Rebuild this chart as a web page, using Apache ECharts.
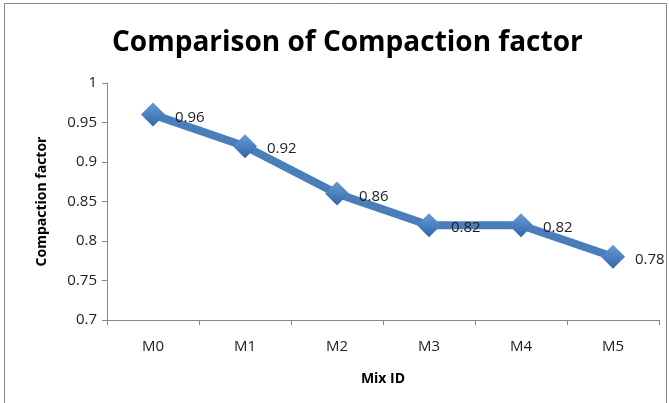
<!DOCTYPE html>
<html><head><meta charset="utf-8">
<script src="https://cdn.jsdelivr.net/npm/echarts@6/dist/echarts.min.js"></script>
<style>html,body{margin:0;padding:0;background:#fff}#c{width:669px;height:403px}</style>
</head><body><div id="c"></div>
<script>
var categories = ['M0','M1','M2','M3','M4','M5'];
var values = [0.96, 0.92, 0.86, 0.82, 0.82, 0.78];
var chart = echarts.init(document.getElementById('c'));
chart.setOption({
  backgroundColor: '#fff',
  animation: false,
  title: {
    text: 'Comparison of Compaction factor',
    left: 107, top: 24,
    textStyle: {fontFamily: 'Open Sans', fontWeight: 'bold', fontSize: 28, color: '#000'}
  },
  graphic: [{type: 'rect', shape: {x: 4.5, y: 3.5, width: 662, height: 410}, style: {fill: 'none', stroke: '#868686', lineWidth: 1}}],
  grid: {left: 107, right: 10, top: 83, bottom: 83},
  xAxis: {
    type: 'category', data: categories, name: 'Mix ID', nameLocation: 'middle', nameGap: 52,
    nameTextStyle: {fontFamily: 'Open Sans', fontWeight: 'bold', fontSize: 14, color: '#000'},
    axisLine: {lineStyle: {color: '#868686'}},
    axisTick: {show: true, length: 5, lineStyle: {color: '#868686'}},
    axisLabel: {fontFamily: 'Open Sans', fontSize: 15, color: '#222', margin: 19}
  },
  yAxis: {
    type: 'value', min: 0.7, max: 1, interval: 0.05,
    name: 'Compaction factor', nameLocation: 'middle', nameGap: 58,
    nameTextStyle: {fontFamily: 'Open Sans', fontWeight: 'bold', fontSize: 14, color: '#000'},
    axisLine: {show: true, lineStyle: {color: '#868686'}},
    axisTick: {show: true, length: 5, lineStyle: {color: '#868686'}},
    splitLine: {show: false},
    axisLabel: {fontFamily: 'Open Sans', fontSize: 15, color: '#222', margin: 10,
      formatter: function (v) { return String(Math.round(v * 100) / 100); }}
  },
  series: [{
    type: 'line', data: values,
    lineStyle: {color: '#4a7ebb', width: 8},
    symbol: 'diamond', symbolSize: 24,
    itemStyle: {color: new echarts.graphic.LinearGradient(0, 0, 0, 1, [{offset: 0, color: '#6b9bd6'}, {offset: 1, color: '#2f66aa'}])},
    label: {show: true, position: 'right', distance: 10, offset: [0, 3], fontFamily: 'Open Sans', fontSize: 15, color: '#222'}
  }]
});
</script></body></html>
